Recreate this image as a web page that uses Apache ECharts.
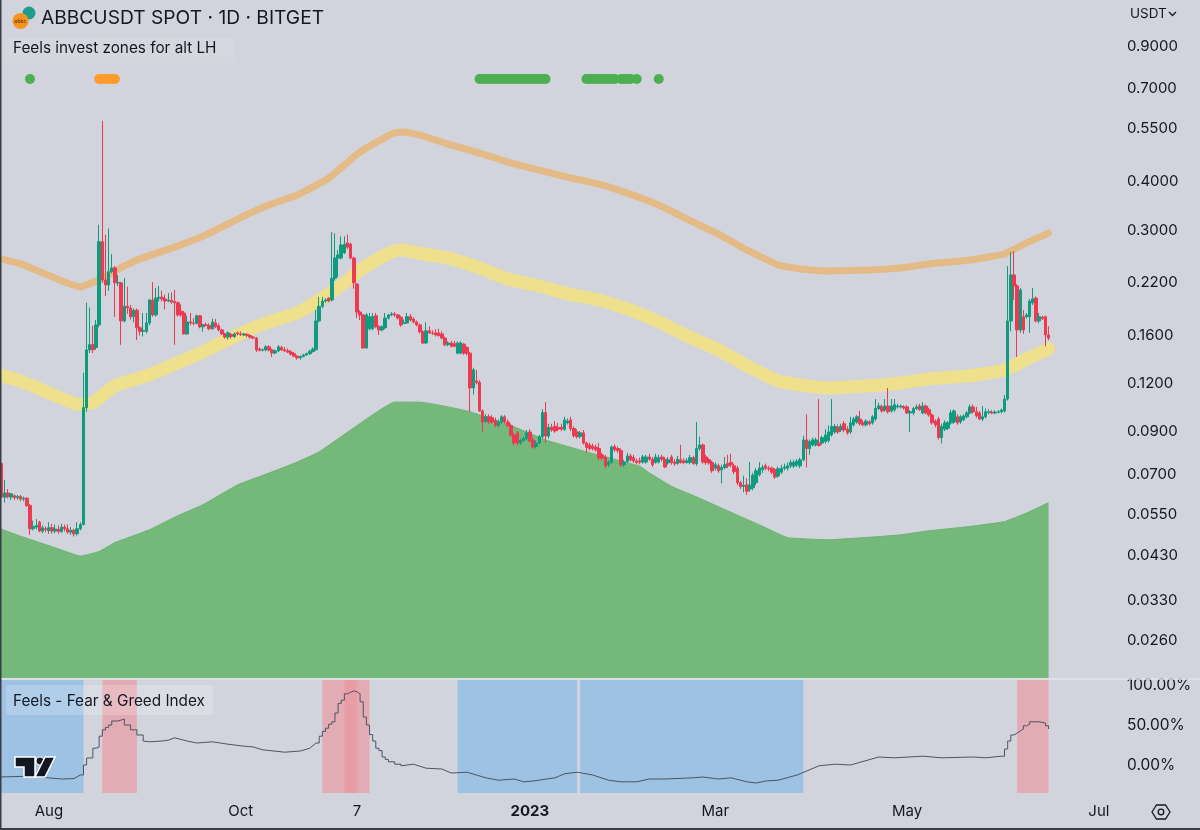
<!DOCTYPE html>
<html>
<head>
<meta charset="utf-8">
<title>ABBCUSDT</title>
<script src="https://cdn.jsdelivr.net/npm/echarts@6/dist/echarts.min.js"></script>
<style>
  html, body { margin: 0; padding: 0; background: #d1d4dc; }
  #chart { width: 1200px; height: 830px; }
</style>
</head>
<body>
<div id="chart"></div>
<script>
// daily candles from 2022-07-16: [open, close, low, high]
const candles = [
  [.0760,.0745,.0740,.0770],[.0745,.0610,.0605,.0750],[.0610,.0625,.0590,.0676],[.0625,.0612,.0605,.0640],[.0610,.0622,.0600,.0625],
  [.0615,.0608,.0600,.0620],[.0608,.0612,.0600,.0618],[.0612,.0603,.0595,.0618],[.0603,.0606,.0595,.0612],[.0606,.0580,.0575,.0610],
  [.0580,.0505,.0487,.0585],[.0505,.0512,.0500,.0530],[.0510,.0515,.0503,.0535],[.0525,.0498,.0495,.0530],[.0498,.0508,.0492,.0515],
  [.0505,.0502,.0495,.0512],[.0500,.0508,.0490,.0525],[.0508,.0498,.0490,.0520],[.0498,.0504,.0492,.0518],[.0504,.0497,.0490,.0515],
  [.0497,.0510,.0493,.0520],[.0510,.0505,.0497,.0518],[.0505,.0495,.0490,.0518],[.0495,.0500,.0487,.0510],[.0500,.0490,.0482,.0505],
  [.0490,.0505,.0485,.0525],[.0505,.0518,.0500,.0525],[.0518,.1040,.0515,.1280],[.1040,.1468,.1015,.1945],[.1468,.1515,.1440,.1890],
  [.1515,.1470,.1440,.1695],[.1490,.1704,.1470,.1755],[.1704,.2800,.1680,.3100],[.2800,.2228,.2190,.5754],[.2228,.2163,.2024,.2920],
  [.2163,.2340,.2087,.3030],[.2340,.2395,.2320,.2600],[.2395,.2190,.1787,.2420],[.2190,.2195,.2150,.2296],[.2190,.1745,.1513,.2200],
  [.1745,.1905,.1730,.2255],[.1905,.1885,.1820,.2140],[.1885,.1790,.1760,.1920],[.1790,.1860,.1730,.1880],[.1860,.1675,.1558,.1880],
  [.1675,.1640,.1600,.1690],[.1640,.1650,.1590,.1830],[.1640,.1725,.1620,.1830],[.1725,.1977,.1700,.1990],[.1977,.1809,.1790,.2200],
  [.1809,.2000,.1790,.2125],[.2000,.2010,.1960,.2150],[.2010,.1990,.1960,.2090],[.1990,.1965,.1870,.2040],[.1965,.1975,.1950,.2060],
  [.1975,.1955,.1930,.2070],[.1960,.1945,.1513,.2099],[.1945,.1809,.1790,.1960],[.1850,.1809,.1790,.1925],[.1830,.1615,.1610,.1850],
  [.1615,.1735,.1610,.1800],[.1735,.1725,.1700,.1830],[.1725,.1720,.1700,.1775],[.1720,.1800,.1710,.1810],[.1800,.1685,.1670,.1810],
  [.1685,.1705,.1635,.1715],[.1705,.1700,.1690,.1730],[.1700,.1665,.1650,.1720],[.1665,.1735,.1655,.1770],[.1725,.1685,.1670,.1765],
  [.1695,.1654,.1640,.1720],[.1654,.1615,.1605,.1665],[.1615,.1585,.1570,.1625],[.1585,.1625,.1560,.1640],[.1610,.1590,.1570,.1625],
  [.1590,.1615,.1575,.1630],[.1625,.1615,.1600,.1640],[.1615,.1610,.1595,.1640],[.1605,.1615,.1595,.1625],[.1610,.1600,.1585,.1620],
  [.1600,.1585,.1570,.1610],[.1585,.1575,.1565,.1595],[.1575,.1468,.1450,.1585],[.1475,.1465,.1455,.1490],[.1465,.1470,.1455,.1480],
  [.1468,.1495,.1455,.1510],[.1495,.1468,.1455,.1510],[.1468,.1442,.1408,.1480],[.1442,.1460,.1430,.1470],[.1460,.1495,.1450,.1510],
  [.1490,.1468,.1460,.1505],[.1470,.1460,.1450,.1495],[.1460,.1450,.1440,.1480],[.1450,.1430,.1420,.1465],[.1435,.1415,.1405,.1450],
  [.1415,.1400,.1385,.1425],[.1400,.1412,.1385,.1420],[.1412,.1425,.1405,.1435],[.1425,.1435,.1415,.1445],[.1435,.1455,.1425,.1470],
  [.1455,.1475,.1445,.1490],[.1470,.1745,.1460,.1865],[.1745,.1905,.1730,.2015],[.1905,.1965,.1880,.2015],[.1965,.1977,.1945,.2000],
  [.2000,.1965,.1950,.2010],[.1977,.2250,.1960,.2965],[.2250,.2540,.2220,.2945],[.2540,.2587,.2265,.2665],[.2540,.2746,.2520,.2890],
  [.2620,.2760,.2600,.2890],[.2780,.2710,.2680,.2920],[.2760,.2540,.2520,.2780],[.2540,.2190,.2115,.2560],[.2175,.1840,.1775,.2190],
  [.1840,.1809,.1755,.1860],[.1809,.1485,.1480,.1820],[.1485,.1809,.1480,.1830],[.1665,.1790,.1650,.1830],[.1665,.1790,.1650,.1830],
  [.1800,.1685,.1670,.1830],[.1685,.1654,.1605,.1700],[.1654,.1685,.1640,.1700],[.1675,.1775,.1660,.1830],[.1775,.1809,.1760,.1820],
  [.1809,.1820,.1795,.1840],[.1820,.1809,.1790,.1840],[.1809,.1775,.1760,.1820],[.1785,.1704,.1685,.1800],[.1720,.1728,.1715,.1760],
  [.1725,.1790,.1715,.1830],[.1790,.1755,.1740,.1820],[.1765,.1735,.1720,.1785],[.1735,.1704,.1690,.1750],[.1704,.1635,.1620,.1720],
  [.1635,.1530,.1520,.1650],[.1530,.1645,.1520,.1730],[.1645,.1625,.1615,.1690],[.1625,.1620,.1605,.1650],[.1625,.1605,.1590,.1660],
  [.1625,.1600,.1590,.1665],[.1615,.1575,.1565,.1640],[.1575,.1513,.1500,.1590],[.1515,.1530,.1500,.1545],[.1530,.1500,.1490,.1550],
  [.1525,.1500,.1490,.1550],[.1440,.1530,.1430,.1545],[.1440,.1530,.1430,.1545],[.1520,.1440,.1425,.1530],[.1490,.1440,.1420,.1500],
  [.1440,.1170,.1015,.1450],[.1170,.1303,.1125,.1320],[.1220,.1210,.1195,.1303],[.1210,.1020,.1015,.1225],[.1020,.0955,.0900,.1030],
  [.0960,.0985,.0950,.1000],[.0985,.0955,.0945,.1000],[.0980,.0955,.0945,.0995],[.0965,.0935,.0925,.0980],[.0935,.0955,.0925,.0970],
  [.0955,.0985,.0945,.0995],[.0985,.0955,.0945,.0995],[.0955,.0935,.0925,.0970],[.0935,.0884,.0875,.0945],[.0884,.0842,.0830,.0895],
  [.0895,.0842,.0830,.0905],[.0842,.0855,.0835,.0865],[.0855,.0865,.0848,.0875],[.0865,.0895,.0855,.0910],[.0900,.0852,.0845,.0915],
  [.0858,.0822,.0815,.0870],[.0825,.0842,.0815,.0855],[.0842,.0875,.0835,.0885],[.0875,.1010,.0865,.1030],[.1010,.0878,.0845,.1075],
  [.0878,.0925,.0865,.0945],[.0925,.0911,.0900,.0945],[.0930,.0905,.0895,.0960],[.0925,.0915,.0905,.0950],[.0925,.0915,.0905,.0945],
  [.0915,.0967,.0905,.0985],[.0950,.0960,.0940,.0975],[.0967,.0918,.0905,.0985],[.0918,.0880,.0870,.0930],[.0900,.0875,.0865,.0915],
  [.0875,.0895,.0865,.0905],[.0895,.0842,.0835,.0910],[.0842,.0820,.0795,.0850],[.0833,.0815,.0805,.0845],[.0828,.0815,.0805,.0840],
  [.0822,.0809,.0800,.0835],[.0815,.0770,.0760,.0842],[.0785,.0770,.0760,.0795],[.0775,.0735,.0725,.0785],[.0740,.0750,.0730,.0760],
  [.0750,.0822,.0745,.0830],[.0825,.0809,.0800,.0835],[.0815,.0805,.0795,.0825],[.0805,.0740,.0730,.0815],[.0740,.0752,.0730,.0762],
  [.0755,.0780,.0748,.0795],[.0780,.0762,.0755,.0790],[.0772,.0757,.0748,.0785],[.0757,.0750,.0742,.0768],[.0757,.0752,.0742,.0772],
  [.0752,.0775,.0745,.0785],[.0752,.0775,.0745,.0785],[.0775,.0765,.0758,.0790],[.0765,.0740,.0730,.0775],[.0750,.0775,.0745,.0790],
  [.0752,.0772,.0745,.0785],[.0775,.0765,.0755,.0785],[.0765,.0730,.0725,.0775],[.0748,.0762,.0740,.0775],[.0775,.0750,.0740,.0785],
  [.0752,.0745,.0735,.0765],[.0745,.0765,.0740,.0780],[.0762,.0750,.0745,.0833],[.0757,.0750,.0742,.0770],[.0750,.0757,.0745,.0770],
  [.0750,.0772,.0742,.0785],[.0772,.0745,.0740,.0780],[.0745,.0815,.0735,.0955],[.0815,.0833,.0805,.0875],[.0833,.0752,.0745,.0840],
  [.0775,.0750,.0740,.0785],[.0762,.0748,.0740,.0770],[.0750,.0714,.0705,.0758],[.0725,.0740,.0715,.0750],[.0735,.0714,.0705,.0745],
  [.0718,.0728,.0662,.0740],[.0728,.0740,.0720,.0775],[.0745,.0735,.0725,.0785],[.0750,.0740,.0730,.0790],[.0735,.0710,.0700,.0745],
  [.0725,.0665,.0655,.0735],[.0665,.0650,.0640,.0672],[.0650,.0655,.0628,.0693],[.0656,.0632,.0618,.0683],[.0640,.0655,.0630,.0752],
  [.0645,.0695,.0635,.0705],[.0665,.0714,.0655,.0725],[.0697,.0725,.0690,.0752],[.0718,.0728,.0705,.0740],[.0735,.0725,.0715,.0745],
  [.0725,.0722,.0712,.0735],[.0725,.0708,.0700,.0732],[.0718,.0688,.0680,.0725],[.0692,.0722,.0685,.0732],[.0708,.0725,.0700,.0740],
  [.0725,.0730,.0715,.0745],[.0725,.0735,.0715,.0750],[.0735,.0750,.0725,.0762],[.0735,.0750,.0725,.0762],[.0740,.0755,.0730,.0765],
  [.0735,.0762,.0725,.0772],[.0762,.0858,.0755,.0880],[.0858,.0815,.0728,.1000],[.0815,.0850,.0785,.0860],[.0833,.0858,.0825,.0870],
  [.0833,.0858,.0825,.0870],[.0842,.0830,.0825,.1095],[.0842,.0870,.0835,.0880],[.0850,.0884,.0840,.0915],[.0855,.0900,.0845,.0935],
  [.0884,.0930,.0875,.1095],[.0900,.0930,.0890,.0945],[.0925,.0900,.0890,.0940],[.0911,.0930,.0900,.0945],[.0945,.0911,.0900,.0960],
  [.0915,.0895,.0885,.0930],[.0900,.0950,.0890,.0985],[.0939,.0972,.0930,.0985],[.0955,.0985,.0945,.0995],[.0972,.0945,.0935,.1020],
  [.0950,.0939,.0930,.0965],[.0939,.0960,.0930,.0970],[.0955,.0945,.0935,.0965],[.0950,.0985,.0940,.0995],[.0972,.1035,.0960,.1095],
  [.1035,.1050,.1025,.1070],[.1045,.1020,.1010,.1060],[.1027,.1050,.1015,.1095],[.1050,.1015,.1005,.1170],[.1020,.1050,.1010,.1095],
  [.1027,.1058,.1015,.1095],[.1045,.1050,.1035,.1065],[.1045,.1050,.1035,.1060],[.1045,.1038,.1028,.1055],[.1045,.1008,.1000,.1055],
  [.1008,.1015,.0900,.1025],[.1008,.1035,.0995,.1045],[.1035,.1045,.1025,.1060],[.1050,.1028,.1020,.1065],[.1008,.1050,.1000,.1075],
  [.1050,.1008,.1000,.1060],[.1028,.0996,.0985,.1040],[.0996,.0950,.0940,.1005],[.0960,.0939,.0925,.0970],[.0972,.0870,.0860,.0985],
  [.0870,.0930,.0840,.0945],[.0915,.0950,.0905,.0965],[.0920,.0950,.0910,.0960],[.0950,.1008,.0940,.1027],[.0955,.1020,.0945,.1030],
  [.0985,.0950,.0940,.1000],[.0955,.0985,.0945,.0995],[.0967,.0990,.0960,.1000],[.0985,.1008,.0975,.1020],[.1008,.1045,.1000,.1060],
  [.1045,.1015,.1005,.1060],[.1015,.0990,.0980,.1045],[.1008,.0972,.0965,.1020],[.0972,.0985,.0960,.1050],[.0985,.1015,.0975,.1035],
  [.1010,.1015,.1000,.1030],[.1012,.1008,.1000,.1025],[.1008,.1012,.1000,.1025],[.1012,.1015,.1005,.1025],[.1015,.1025,.1005,.1035],
  [.1020,.1095,.1010,.1122],[.1095,.1745,.1085,.2420],[.1745,.2296,.1640,.2635],[.2296,.2150,.1977,.2650],[.2150,.1654,.1408,.2175],
  [.1654,.2099,.1625,.2125],[.1790,.1654,.1615,.1863],[.1790,.1809,.1770,.1830],[.1790,.1965,.1625,.1990],[.1945,.1990,.1920,.2125],
  [.2000,.1745,.1730,.2020],[.1745,.1790,.1720,.1830],[.1785,.1770,.1755,.1800],[.1790,.1605,.1500,.1800],[.1605,.1575,.1555,.1690]
];

// zone curves, read at the day index where they bend: [day, price]
const upperZone = [[0,.2541],[8,.2437],[26,.2137],[32,.2228],[37,.2350],[44,.2510],[57,.2730],[65,.2895],[76,.3205],[86,.3484],
  [95,.3698],[105,.4090],[110,.4423],[115,.4782],[122,.5165],[126,.5355],[129,.5385],[134,.5291],[143,.5014],[153,.4752],[162,.4503],[172,.4293],
  [181,.4117],[191,.3950],[200,.3742],[210,.3484],[219,.3205],[229,.2930],[238,.2665],[248,.2437],[255,.2380],[264,.2350],
  [277,.2365],[287,.2395],[296,.2450],[309,.2510],[320,.2602],[327,.2780],[334,.2947]];
const middleZone = [[0,.1265],[8,.1212],[26,.1058],[30,.1071],[37,.1185],[48,.1265],[57,.1360],[65,.1450],[76,.1605],[86,.1735],
  [95,.1830],[105,.2050],[110,.2190],[115,.2365],[122,.2560],[126,.2650],[129,.2665],[134,.2612],[143,.2541],[153,.2395],[162,.2240],[172,.2150],
  [181,.2050],[191,.1977],[200,.1875],[210,.1735],[219,.1595],[229,.1468],[238,.1335],[248,.1220],[255,.1191],[264,.1170],
  [277,.1185],[287,.1205],[296,.1235],[309,.1258],[320,.1303],[327,.1390],[334,.1477]];
const lowerZone = [[0,.0507],[8,.0480],[19,.0448],[26,.0429],[32,.0441],[37,.0465],[48,.0502],[57,.0546],[65,.0583],[76,.0656],
  [86,.0704],[95,.0752],[102,.0799],[113,.0922],[126,.1075],[134,.1075],[143,.1045],[150,.1015],[164,.0928],[174,.0858],
  [188,.0795],[204,.0733],[207,.0705],[214,.0651],[223,.0606],[230,.0571],[242,.0517],[251,.0479],[264,.0473],[277,.0480],[287,.0487],
  [296,.0499],[309,.0512],[320,.0527],[327,.0555],[334,.0590]];

// signal dots along the top of the chart (day indexes)
const signalLevel = 0.739;
const buySignals = [10,153,154,155,156,157,158,159,160,161,162,163,164,165,166,167,168,169,170,171,172,173,174,
  187,188,189,190,191,192,193,194,195,196,198,199,200,201,203,210];
const sellSignals = [32,33,34,35,36,37];

// Fear & Greed index, [day, percent]
const fearGreed = [[0,-15],[10,-14],[20,-17.5],[24,-17],[26,-12.5],[27,0],[28,8.75],[29,9],[30,21],[31,22.5],[32,36],[33,44],[34,47],
  [35,50],[36,55],[38,57.5],[40,50],[42,44],[44,37.5],[46,30],[48,29],[52,30],[54,31],[56,34],[60,30],[63,27.5],[68,29],[73,26],
  [77,24],[81,22.5],[84,19],[91,16],[96,17.5],[99,21],[101,27.5],[102,36],[103,42],[104,46],[105,51],[106,54],[107,65],[108,77],
  [109,81],[110,89],[111,91],[112,92.5],[113,91.5],[114,89],[115,79],[116,60],[117,50],[118,38],[119,30],[120,21],[121,18],[122,10],
  [123,7],[124,4],[126,1],[128,-1],[132,1],[136,-4],[141,-5],[144,-10],[149,-9],[155,-16],[159,-19],[164,-17.5],[167,-21],[170,-20],
  [177,-16],[180,-11],[184,-9],[189,-12.5],[194,-19],[198,-21],[203,-21],[207,-17.5],[212,-17.5],[221,-16],[224,-15],[229,-17.5],
  [233,-16],[238,-21],[241,-22.5],[244,-20],[248,-19],[254,-12.5],[261,-1],[266,1],[271,0],[280,10],[285,9],[294,11],[300,9],
  [310,10],[314,9],[319,11],[320,20],[321,30],[322,37.5],[323,40],[324,42.5],[325,45],[326,49],[327,51],[328,54],[330,54],[331,52.5],
  [333,49],[334,45]];
// stretches of the index that move fast enough to show daily stairs
const steppedRuns = [[26,46],[101,128],[319,334]];
const flatRuns = [[0,26],[46,101],[128,319]];

// coloured zones of the lower pane
const fearBands = [['2022-07-16','2022-08-12'],['2022-12-09','2023-01-16'],['2023-01-17','2023-03-29']];
const greedBands = [['2022-08-18','2022-08-29'],['2022-10-27','2022-11-11'],['2023-06-05','2023-06-15']];
const extremeGreedBands = [['2022-11-03','2022-11-07']];

const priceTicks = [0.9, 0.7, 0.55, 0.4, 0.3, 0.22, 0.16, 0.12, 0.09, 0.07, 0.055, 0.043, 0.033, 0.026];
const percentTicks = [0, 50, 100];
const timeTicks = { '2022-08-01': 'Aug', '2022-10-01': 'Oct', '2022-11-07': '7', '2023-01-01': '{b|2023}',
  '2023-03-01': 'Mar', '2023-05-01': 'May', '2023-07-01': 'Jul' };

// category days, the axis runs on past the last candle
const categories = [];
for (let i = 0; i < 355; i++) {
  categories.push(new Date(Date.UTC(2022, 6, 16 + i)).toISOString().slice(0, 10));
}

const TEXT = '#131722';
const FONT = 'Inter, "Noto Sans", sans-serif';

const bandData = (bands, color) => bands.map(b => [
  { xAxis: b[0], itemStyle: { color: color } },
  { xAxis: b[1] }
]);

const signalSeries = (days, color) => ({
  type: 'scatter',
  xAxisIndex: 0, yAxisIndex: 0,
  symbolSize: 10,
  itemStyle: { color: color, opacity: 1 },
  z: 6,
  data: days.map(d => [d, signalLevel])
});

const indexRun = (run, step) => ({
  type: 'line', xAxisIndex: 1, yAxisIndex: 1, step: step, showSymbol: false, z: 5,
  lineStyle: { color: '#4b5563', width: 1 },
  data: fearGreed.filter(p => p[0] >= run[0] && p[0] <= run[1])
});

const chart = echarts.init(document.getElementById('chart'));
chart.setOption({
  animation: false,
  backgroundColor: '#d1d4dc',
  textStyle: { fontFamily: FONT },
  grid: [
    { left: -3, width: 1116, top: 0, height: 678, outerBoundsMode: 'none' },
    { left: -3, width: 1116, top: 680, height: 113, outerBoundsMode: 'none' }
  ],
  xAxis: [
    { type: 'category', gridIndex: 0, data: categories, axisLine: { show: false }, axisTick: { show: false }, axisLabel: { show: false }, splitLine: { show: false } },
    {
      type: 'category', gridIndex: 1, data: categories,
      axisLine: { show: false }, axisTick: { show: false }, splitLine: { show: false },
      axisLabel: {
        color: TEXT, fontSize: 15, margin: 11, hideOverlap: false,
        interval: (idx, val) => val in timeTicks,
        formatter: val => timeTicks[val] || '',
        rich: { b: { fontWeight: 'bold', fontSize: 15, color: TEXT, fontFamily: FONT } }
      }
    }
  ],
  yAxis: [
    {
      type: 'log', gridIndex: 0, position: 'right', logBase: 10, min: 0.02073, max: 1.1842,
      axisLine: { show: false }, axisTick: { show: false }, splitLine: { show: false }, minorTick: { show: false }, minorSplitLine: { show: false },
      axisLabel: { color: TEXT, fontSize: 15, margin: 14, customValues: priceTicks, formatter: v => Number(v).toFixed(4), showMinLabel: true, showMaxLabel: true }
    },
    {
      type: 'value', gridIndex: 1, position: 'right', min: -35, max: 106.25,
      axisLine: { show: false }, axisTick: { show: false }, splitLine: { show: false },
      axisLabel: { color: TEXT, fontSize: 15.5, margin: 14, customValues: percentTicks, formatter: v => Number(v).toFixed(2) + '%' }
    }
  ],
  series: [
    {
      type: 'line', xAxisIndex: 0, yAxisIndex: 0, data: lowerZone, smooth: 0.12, showSymbol: false, z: 2,
      lineStyle: { color: '#6db274', width: 1 },
      areaStyle: { color: '#74b97a', opacity: 1, origin: 'start' }
    },
    {
      type: 'line', xAxisIndex: 0, yAxisIndex: 0, data: middleZone, smooth: 0.12, showSymbol: false, z: 3,
      lineStyle: { color: '#efe08e', width: 13, cap: 'round', join: 'round' }
    },
    {
      type: 'line', xAxisIndex: 0, yAxisIndex: 0, data: upperZone, smooth: 0.12, showSymbol: false, z: 3,
      lineStyle: { color: '#e4ba86', width: 7, cap: 'round', join: 'round' }
    },
    {
      type: 'candlestick', xAxisIndex: 0, yAxisIndex: 0, data: candles, barWidth: 3, z: 5,
      itemStyle: { color: '#109b80', color0: '#ec3a50', borderColor: '#109b80', borderColor0: '#ec3a50', borderWidth: 1 }
    },
    signalSeries(buySignals, '#4caf50'),
    signalSeries(sellSignals, '#ff9a2b'),
    {
      type: 'line', xAxisIndex: 1, yAxisIndex: 1, data: [], showSymbol: false, z: 1,
      markArea: {
        silent: true,
        data: bandData(fearBands, '#9dc2e4')
          .concat(bandData(greedBands, '#e3abb3'))
          .concat(bandData(extremeGreedBands, '#e99ca6'))
      }
    }
  ].concat(flatRuns.map(r => indexRun(r, false)), steppedRuns.map(r => indexRun(r, 'end'))),
  graphic: [
    { type: 'rect', shape: { x: 6, y: 38, width: 229, height: 25 }, style: { fill: 'rgba(255,255,255,0.08)' } },
    { type: 'rect', shape: { x: 6, y: 685, width: 207, height: 30 }, style: { fill: 'rgba(255,255,255,0.2)' } },
    { type: 'line', shape: { x1: 0, y1: 679, x2: 1200, y2: 679 }, style: { stroke: '#e3e5ea', lineWidth: 1.5 } },
    { type: 'rect', shape: { x: 0, y: 0, width: 1.5, height: 830 }, style: { fill: '#3a3d44' } },
    { type: 'rect', shape: { x: 0, y: 828, width: 1200, height: 2 }, style: { fill: '#3a3d44' } },
    // symbol logo
    { type: 'circle', shape: { cx: 29, cy: 13, r: 6.5 }, style: { fill: '#1f9c8d' } },
    { type: 'circle', shape: { cx: 20.5, cy: 21, r: 8 }, style: { fill: '#f7941e' } },
    { type: 'text', style: { x: 20.5, y: 21, text: 'abbc', fill: '#3a2a10', font: '5px ' + FONT, align: 'center', verticalAlign: 'middle' } },
    { type: 'text', style: { x: 41, y: 18, text: 'ABBCUSDT SPOT · 1D · BITGET', fill: TEXT, font: '19.2px ' + FONT, verticalAlign: 'middle' } },
    { type: 'text', style: { x: 13, y: 48, text: 'Feels invest zones for alt LH', fill: TEXT, font: '15.3px ' + FONT, verticalAlign: 'middle' } },
    { type: 'text', style: { x: 13, y: 701, text: 'Feels - Fear & Greed Index', fill: TEXT, font: '15.3px ' + FONT, verticalAlign: 'middle' } },
    { type: 'text', style: { x: 1130, y: 14, text: 'USDT', fill: TEXT, font: '13.5px ' + FONT, verticalAlign: 'middle' } },
    { type: 'polyline', shape: { points: [[1169, 12], [1172.5, 15.5], [1176, 12]] }, style: { stroke: TEXT, lineWidth: 1.3, fill: 'none' } },
    // tradingview mark
    { type: 'polygon', shape: { points: [[15, 757], [35, 757], [35, 777], [24, 777], [24, 767], [15, 767]] }, style: { fill: '#131722', stroke: '#fff', lineWidth: 1.5 } },
    { type: 'circle', shape: { cx: 40, cy: 761, r: 4 }, style: { fill: '#131722', stroke: '#fff', lineWidth: 1.2 } },
    { type: 'polygon', shape: { points: [[45, 757], [55, 757], [45, 777], [35, 777]] }, style: { fill: '#131722', stroke: '#fff', lineWidth: 1.5 } },
    // settings hexagon
    { type: 'polygon', shape: { points: [[1152, 812], [1156.5, 805], [1165.5, 805], [1170, 812], [1165.5, 819], [1156.5, 819]] }, style: { stroke: TEXT, lineWidth: 1.3, fill: 'none' } },
    { type: 'circle', shape: { cx: 1161, cy: 812, r: 2.8 }, style: { stroke: TEXT, lineWidth: 1.3, fill: 'none' } }
  ].map(el => Object.assign({ z: 200 }, el))
});
</script>
</body>
</html>
